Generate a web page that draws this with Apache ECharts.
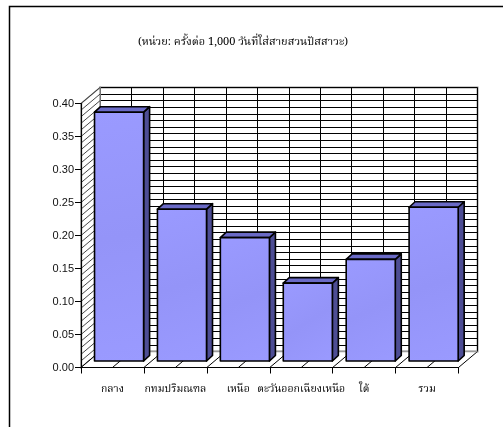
<!DOCTYPE html>
<html>
<head>
<meta charset="utf-8">
<script src="https://cdn.jsdelivr.net/npm/echarts@6/dist/echarts.min.js"></script>
<style>
  html, body { margin: 0; padding: 0; background: #ffffff; }
  #chart { width: 503px; height: 427px; }
</style>
</head>
<body>
<div id="chart"></div>
<script>
// Catheter-associated infection rate by region (per 1,000 catheter days)
const categories = ['กลาง', 'กทมปริมณฑล', 'เหนือ', 'ตะวันออกเฉียงเหนือ', 'ใต้', 'รวม'];
const rates = [0.377, 0.230, 0.187, 0.118, 0.154, 0.233];
const yMin = 0;
const yMax = 0.40;
const yStep = 0.05;
const wallStep = 0.01;
const titleText = '(หน่วย: ครั้งต่อ 1,000 วันที่ใส่สายสวนปัสสาวะ)';

// 3-D look: offset of the back wall, and of each bar's front face / depth
const WALL = { dx: 19, dy: -16 };
const BAR_SHIFT = { dx: 6.6, dy: -6.5 };
const BAR_DEPTH = { dx: 6, dy: -5.5 };
const BAR_RATIO = 0.78;

const FRONT_GRID = { left: 81, top: 103.5, width: 377.5, height: 264 };
const BACK_GRID = {
  left: FRONT_GRID.left + WALL.dx, top: FRONT_GRID.top + WALL.dy,
  width: FRONT_GRID.width, height: FRONT_GRID.height
};

const THAI_FONT = '"Noto Serif Thai", "Noto Sans Thai", "Angsana New", serif';
const NUM_FONT = '"Liberation Sans", Arial, sans-serif';

const chart = echarts.init(document.getElementById('chart'), null, { renderer: 'canvas' });

// Side wall and floor, drawn in the front grid's coordinates plus the wall offset
function renderWalls(params, api) {
  const band = api.size([1, 0])[0];
  const origin = api.coord([0, yMin]);
  const x0 = origin[0] - band / 2;
  const x1 = x0 + band * categories.length;
  const y0 = origin[1];
  const yTop = api.coord([0, yMax])[1];
  const children = [];

  // side wall
  children.push({
    type: 'polygon',
    shape: { points: [[x0, y0], [x0, yTop], [x0 + WALL.dx, yTop + WALL.dy], [x0 + WALL.dx, y0 + WALL.dy]] },
    style: { fill: '#ffffff', stroke: '#9a9a9a', lineWidth: 1.5 }
  });
  const nWall = Math.round((yMax - yMin) / wallStep);
  for (let k = 0; k <= nWall; k++) {
    const y = api.coord([0, yMin + k * wallStep])[1];
    children.push({
      type: 'line',
      shape: { x1: x0, y1: y, x2: x0 + WALL.dx, y2: y + WALL.dy },
      style: { stroke: '#333333', lineWidth: 0.9 }
    });
  }

  // floor
  children.push({
    type: 'polygon',
    shape: { points: [[x0, y0], [x1, y0], [x1 + WALL.dx, y0 + WALL.dy], [x0 + WALL.dx, y0 + WALL.dy]] },
    style: { fill: '#ffffff', stroke: null }
  });
  for (let k = 0; k <= categories.length * 2; k++) {
    const x = x0 + k * band / 2;
    children.push({
      type: 'line',
      shape: { x1: x, y1: y0, x2: x + WALL.dx, y2: y0 + WALL.dy },
      style: { stroke: '#000000', lineWidth: 1 }
    });
  }
  children.push({
    type: 'line',
    shape: { x1: x0 + WALL.dx, y1: y0 + WALL.dy, x2: x1 + WALL.dx, y2: y0 + WALL.dy },
    style: { stroke: '#9a9a9a', lineWidth: 1.5 }
  });
  return { type: 'group', children: children };
}

// A 3-D column: front face, right side and top
function renderBar(params, api) {
  const i = api.value(0);
  const v = api.value(1);
  const base = api.coord([i, yMin]);
  const top = api.coord([i, v]);
  const band = api.size([1, 0])[0];
  const w = band * BAR_RATIO;
  const xa = base[0] - w / 2 + BAR_SHIFT.dx;
  const xb = xa + w;
  const yb = base[1] + BAR_SHIFT.dy;
  const yt = top[1] + BAR_SHIFT.dy;
  const d = BAR_DEPTH;
  const edge = { stroke: '#000000', lineWidth: 1.6, lineJoin: 'round' };
  return {
    type: 'group',
    children: [
      {
        type: 'polygon',
        shape: { points: [[xb, yb], [xb, yt], [xb + d.dx, yt + d.dy], [xb + d.dx, yb + d.dy]] },
        style: Object.assign({ fill: '#4d4d94' }, edge)
      },
      {
        type: 'polygon',
        shape: { points: [[xa, yt], [xb, yt], [xb + d.dx, yt + d.dy], [xa + d.dx, yt + d.dy]] },
        style: Object.assign({ fill: '#6a6ac6' }, edge)
      },
      {
        type: 'rect',
        shape: { x: xa, y: yt, width: w, height: yb - yt },
        style: Object.assign({
          fill: new echarts.graphic.LinearGradient(0, 0, 1, 1, [
            { offset: 0, color: '#9a9aff' },
            { offset: 0.5, color: '#9494f8' },
            { offset: 1, color: '#9a9aff' }
          ])
        }, edge)
      }
    ]
  };
}

const option = {
  animation: false,
  backgroundColor: '#ffffff',
  grid: [
    Object.assign({}, FRONT_GRID, { containLabel: false }),
    Object.assign({}, BACK_GRID, {
      containLabel: false, show: true,
      backgroundColor: '#ffffff', borderColor: '#9a9a9a', borderWidth: 2
    })
  ],
  xAxis: [
    {
      gridIndex: 0, type: 'category', data: categories, boundaryGap: true, z: 10,
      axisLine: { show: true, lineStyle: { color: '#000000', width: 1.2 } },
      axisTick: { show: true, length: 6, alignWithLabel: false, lineStyle: { color: '#000000' } },
      axisLabel: {
        interval: 0, margin: 17, color: '#000000',
        fontFamily: THAI_FONT, fontSize: 10.5
      },
      splitLine: { show: false }
    },
    {
      gridIndex: 1, type: 'value', min: 0, max: categories.length * 2, interval: 1,
      axisLine: { show: false }, axisTick: { show: false }, axisLabel: { show: false },
      splitLine: { show: true, lineStyle: { color: '#000000', width: 1 } }
    }
  ],
  yAxis: [
    {
      gridIndex: 0, type: 'value', min: yMin, max: yMax, interval: yStep, z: 10,
      axisLine: { show: true, lineStyle: { color: '#000000', width: 1.2 } },
      axisTick: { show: true, length: 6, lineStyle: { color: '#000000' } },
      axisLabel: {
        margin: 7, color: '#111111', fontFamily: NUM_FONT, fontSize: 11,
        formatter: (val) => val.toFixed(2)
      },
      splitLine: { show: false }
    },
    {
      gridIndex: 1, type: 'value', min: yMin, max: yMax, interval: wallStep,
      axisLine: { show: false }, axisTick: { show: false }, axisLabel: { show: false },
      splitLine: { show: true, lineStyle: { color: '#000000', width: 1 } }
    }
  ],
  series: [
    {
      type: 'custom', name: 'walls', xAxisIndex: 0, yAxisIndex: 0, z: 2,
      renderItem: renderWalls, data: [[0, 0]], silent: true
    },
    {
      type: 'custom', name: 'rate', xAxisIndex: 0, yAxisIndex: 0, z: 3,
      renderItem: renderBar,
      encode: { x: 0, y: 1 },
      data: rates.map((v, i) => [i, v])
    }
  ],
  graphic: [
    {
      type: 'rect', z: 100, silent: true,
      shape: { x: 9.5, y: 6.5, width: 500, height: 430 },
      style: { fill: null, stroke: '#000000', lineWidth: 1.5 }
    },
    {
      type: 'text', z: 100, x: 243, y: 43,
      style: {
        text: titleText, fill: '#000000', fontFamily: THAI_FONT, fontSize: 11,
        align: 'center', verticalAlign: 'middle'
      }
    }
  ]
};

chart.setOption(option);
</script>
</body>
</html>
